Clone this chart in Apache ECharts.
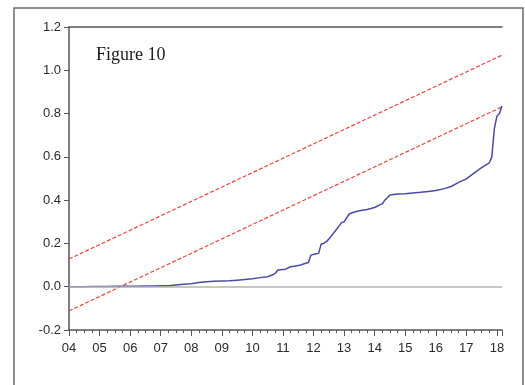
<!DOCTYPE html>
<html>
<head>
<meta charset="utf-8">
<style>
  html, body { margin: 0; padding: 0; background: #ffffff; }
  #chart { width: 525px; height: 385px; }
</style>
<script src="https://cdn.jsdelivr.net/npm/echarts@6/dist/echarts.min.js"></script>
</head>
<body>
<div id="chart"></div>
<script>
// Sample periods (year-month) of the CUSUM of squares statistic
const periods = [
  '2004-01','2004-04','2004-07','2004-10',
  '2005-01','2005-04','2005-07','2005-10',
  '2006-01','2006-04','2006-07','2006-10',
  '2007-01','2007-04','2007-07','2007-10',
  '2008-01','2008-04','2008-07','2008-10',
  '2009-01','2009-04','2009-07','2009-10',
  '2010-01','2010-04','2010-07','2010-09','2010-10','2010-11',
  '2011-01','2011-02','2011-04','2011-06','2011-08','2011-09','2011-11','2011-12',
  '2012-02','2012-03','2012-04','2012-05','2012-06','2012-07','2012-09','2012-11','2012-12',
  '2013-01','2013-03','2013-05','2013-07','2013-10',
  '2014-01','2014-03','2014-04','2014-05','2014-06','2014-07','2014-10',
  '2015-01','2015-04','2015-07','2015-10',
  '2016-01','2016-04','2016-07','2016-10',
  '2017-01','2017-04','2017-07','2017-10','2017-11','2017-12',
  '2018-01','2018-02','2018-03'
];
const cusumSq = [
  0.000, 0.000, 0.000, 0.001,
  0.001, 0.001, 0.002, 0.002,
  0.002, 0.002, 0.003, 0.003,
  0.004, 0.005, 0.008, 0.011,
  0.014, 0.019, 0.023, 0.025,
  0.026, 0.027, 0.030, 0.033,
  0.037, 0.042, 0.046, 0.055, 0.062, 0.077,
  0.080, 0.081, 0.092, 0.096, 0.100, 0.105, 0.112, 0.146,
  0.152, 0.154, 0.197, 0.200, 0.208, 0.220, 0.249, 0.280, 0.296,
  0.300, 0.336, 0.345, 0.351, 0.357,
  0.366, 0.378, 0.383, 0.400, 0.411, 0.424, 0.428,
  0.430, 0.433, 0.436, 0.440,
  0.445, 0.452, 0.463, 0.482,
  0.498, 0.525, 0.550, 0.572, 0.600, 0.730,
  0.788, 0.800, 0.835
];

// 5% significance bounds (straight lines between the end periods)
const boundPeriods = ['2004-01', '2018-03'];
const upperBound = [0.128, 1.070];
const lowerBound = [-0.112, 0.831];

// Axis ticks
const yTicks = [-0.2, 0.0, 0.2, 0.4, 0.6, 0.8, 1.0, 1.2];
const yearTicks = [2004, 2005, 2006, 2007, 2008, 2009, 2010, 2011, 2012, 2013, 2014, 2015, 2016, 2017, 2018];

const titleText = 'Figure 10';

function toYear(p) {
  const [y, m] = p.split('-').map(Number);
  return y + (m - 1) / 12;
}
const pairs = (ps, vs) => ps.map((p, i) => [toYear(p), vs[i]]);

const xMin = toYear(periods[0]);
const xMax = toYear(periods[periods.length - 1]);
const axisColor = '#555555';
const labelFont = 'Liberation Sans, Arial, sans-serif';

const chart = echarts.init(document.getElementById('chart'), null, { renderer: 'canvas' });

chart.setOption({
  animation: false,
  backgroundColor: '#ffffff',
  grid: { left: 69, right: 23, top: 27, bottom: 55 },
  xAxis: [
    {
      type: 'value',
      min: xMin,
      max: xMax,
      interval: 1,
      axisLine: { show: true, onZero: false, lineStyle: { color: axisColor, width: 1.5 } },
      axisTick: { show: true, inside: false, length: 6, lineStyle: { color: axisColor, width: 1 } },
      minorTick: { show: true, splitNumber: 4, length: 3, lineStyle: { color: axisColor, width: 1 } },
      splitLine: { show: false },
      axisLabel: {
        margin: 12,
        color: '#2a2a2a',
        fontFamily: labelFont,
        fontSize: 13,
        formatter: v => yearTicks.includes(Math.round(v)) ? String(Math.round(v)).slice(2) : ''
      }
    },
    {
      type: 'value',
      position: 'top',
      min: xMin,
      max: xMax,
      axisLine: { show: true, onZero: false, lineStyle: { color: axisColor, width: 1.5 } },
      axisTick: { show: false },
      axisLabel: { show: false },
      splitLine: { show: false }
    }
  ],
  yAxis: {
    type: 'value',
    min: yTicks[0],
    max: yTicks[yTicks.length - 1],
    interval: 0.2,
    axisLine: { show: true, onZero: false, lineStyle: { color: axisColor, width: 1.5 } },
    axisTick: { show: true, inside: false, length: 5, lineStyle: { color: axisColor, width: 1 } },
    splitLine: { show: false },
    axisLabel: {
      margin: 8,
      color: '#2a2a2a',
      fontFamily: labelFont,
      fontSize: 13,
      formatter: v => v.toFixed(1)
    }
  },
  graphic: [
    {
      type: 'rect',
      shape: { x: 14, y: 8, width: 509, height: 400 },
      style: { fill: 'none', stroke: '#6a6a6a', lineWidth: 1.5 },
      silent: true,
      z: -1
    },
    {
      type: 'text',
      left: 96,
      top: 46,
      style: {
        text: titleText,
        fill: '#1a1a1a',
        font: '18px "Liberation Serif", "DejaVu Serif", serif'
      }
    }
  ],
  series: [
    {
      name: 'CUSUM of Squares',
      type: 'line',
      data: pairs(periods, cusumSq),
      showSymbol: false,
      smooth: false,
      lineStyle: { color: '#4a4aa6', width: 1.5 },
      z: 3,
      markLine: {
        silent: true,
        symbol: 'none',
        label: { show: false },
        lineStyle: { color: '#b3b3b3', width: 1.5, type: 'solid' },
        data: [{ yAxis: 0 }]
      }
    },
    {
      name: 'Upper 5% bound',
      type: 'line',
      data: pairs(boundPeriods, upperBound),
      showSymbol: false,
      lineStyle: { color: '#e8473f', width: 1.2, type: [4, 2] },
      z: 2
    },
    {
      name: 'Lower 5% bound',
      type: 'line',
      data: pairs(boundPeriods, lowerBound),
      showSymbol: false,
      lineStyle: { color: '#e8473f', width: 1.2, type: [4, 2] },
      z: 2
    }
  ]
});
</script>
</body>
</html>
